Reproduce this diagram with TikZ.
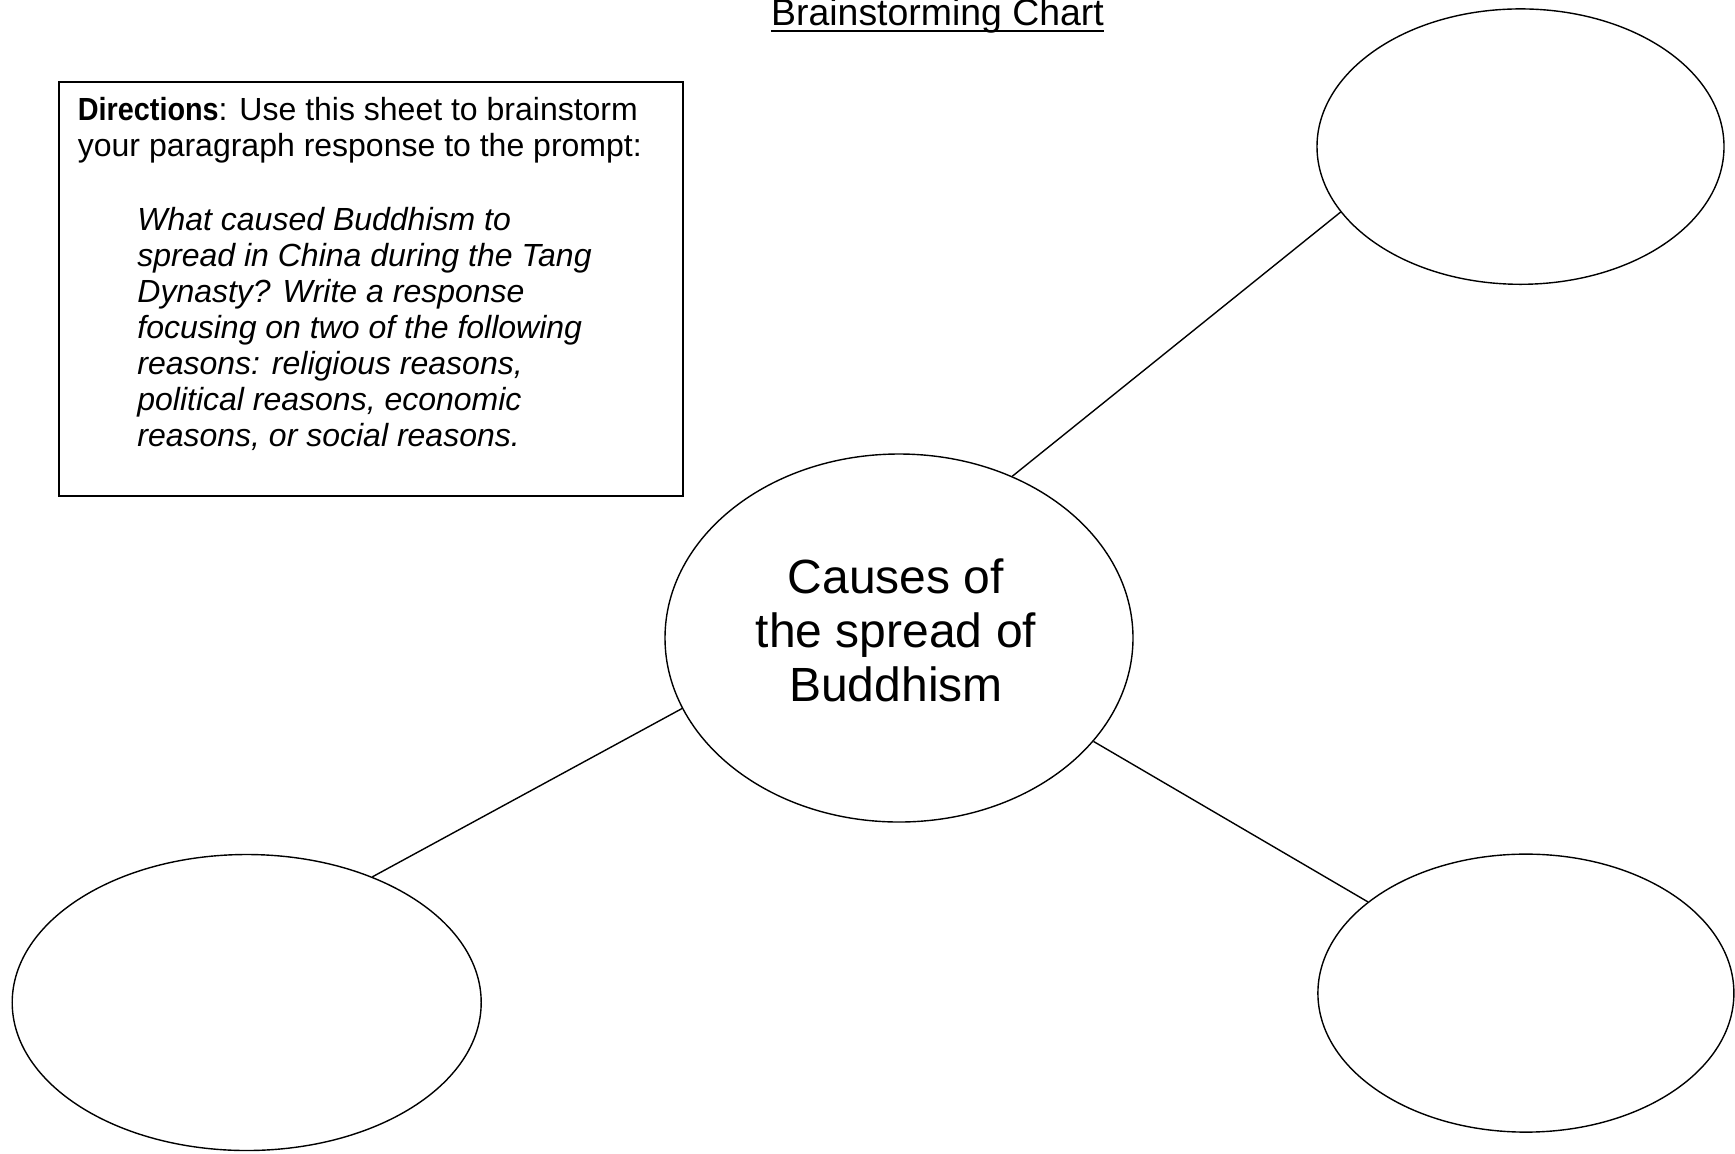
\documentclass[tikz,border=0pt]{standalone}
\usepackage{graphicx}
\usepackage{fontspec}
\setmainfont{Liberation Sans}
\usetikzlibrary{shapes.geometric}
\tikzset{
  bubble/.style ={draw, ellipse, line width=0.7pt, inner sep=0pt},
  dirbox/.style ={draw, line width=1pt, inner sep=0pt},
  txt/.style    ={inner sep=0pt, align=left, font=\fontsize{16}{18}\selectfont},
  spoke/.style  ={line width=0.7pt},
}
\begin{document}
\begin{tikzpicture}[x=0.5pt, y=-0.5pt]
\useasboundingbox (0,0) rectangle (1735,1153);

% ---- title -----------------------------------------------------------
\node[inner sep=0pt, anchor=base, font=\fontsize{18.7}{20}\selectfont] (title)
      at (937.5,25) {Brainstorming Chart};
\draw[line width=1pt] ([yshift=-2.75pt]title.base west) -- ([yshift=-2.75pt]title.base east);

% ---- directions ------------------------------------------------------
\node[dirbox, anchor=north west, minimum width=312pt, minimum height=207pt] (dir)
      at (57.5,80.8) {};
\node[txt, anchor=base west] (dirtxt) at (77.5,156.6)
      {\scalebox{0.9}[1]{\textbf{Directions}}: Use this sheet to brainstorm\\your paragraph response to the prompt:};
\node[txt, anchor=base west, font=\fontsize{16}{18}\selectfont\itshape] (prompt) at (137,446)
      {What caused Buddhism to\\spread in China during the Tang\\Dynasty? Write a response\\focusing on two of the following\\reasons: religious reasons,\\political reasons, economic\\reasons, or social reasons.};

% ---- bubbles ---------------------------------------------------------
\node[bubble, minimum width=234pt, minimum height=184pt] (cen) at (899,638) {};
\node[inner sep=0pt, align=center, font=\fontsize{24}{27}\selectfont] (centxt)
      at (896,630) {Causes of\\the spread of\\Buddhism};
\node[bubble, minimum width=203.5pt, minimum height=137.7pt] (tr) at (1520.5,146.6) {};
\node[bubble, minimum width=234.5pt, minimum height=148pt] (bl) at (246.7,1002.5) {};
\node[bubble, minimum width=208pt, minimum height=139pt] (br) at (1525.9,993.1) {};

\draw[spoke] (cen.55.5) -- (tr.200.5);
\draw[spoke] (cen.198.2) -- (bl.45);
\draw[spoke] (cen.332.1) -- (br.150.2);

\end{tikzpicture}
\end{document}
